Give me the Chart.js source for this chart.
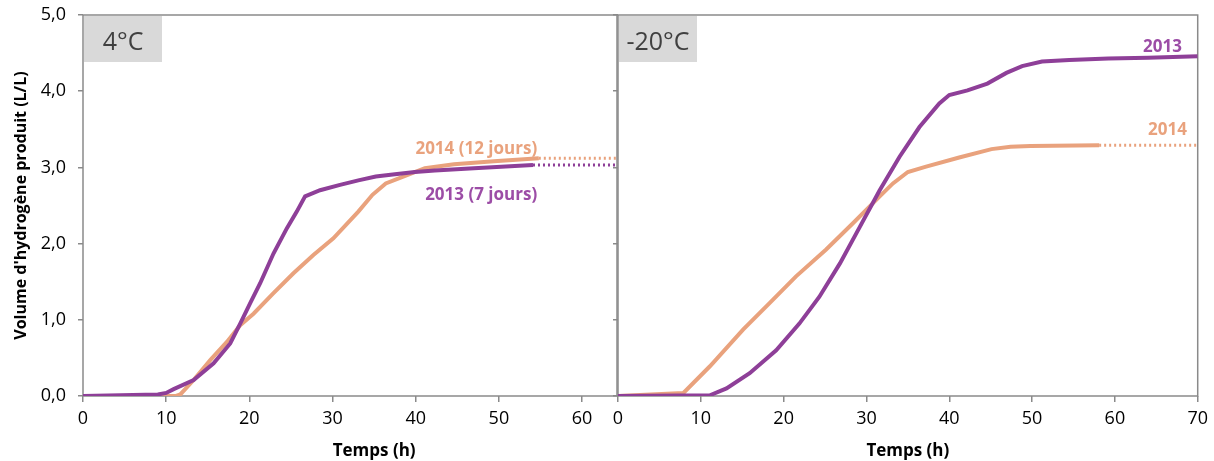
<!DOCTYPE html>
<html>
<head>
<meta charset="utf-8">
<script src="https://cdn.jsdelivr.net/npm/chart.js@4/dist/chart.umd.min.js"></script>
<style>
  body { margin: 0; background: #fff; }
  #wrap { position: relative; width: 1214px; height: 461px; }
  .panel { position: absolute; top: 0; height: 461px; }
  #left { left: 0; width: 620px; }
  #right { left: 600px; width: 614px; }
</style>
</head>
<body>
<div id="wrap">
  <div class="panel" id="left"><canvas id="chartLeft"></canvas></div>
  <div class="panel" id="right"><canvas id="chartRight"></canvas></div>
</div>
<script>
// 4°C panel
const left2013Time = [0, 9, 10, 10.9, 13.3, 15.7, 17.7, 18.9, 20.1, 21.3, 22.9, 24.5, 25.7, 26.7, 28.5, 30.9, 33.1, 35.2, 37.5, 39.9, 42.3, 47, 54.1];
const left2013Vol  = [0, 0.02, 0.04, 0.09, 0.21, 0.43, 0.69, 0.95, 1.22, 1.48, 1.87, 2.2, 2.42, 2.62, 2.7, 2.77, 2.83, 2.88, 2.91, 2.94, 2.96, 2.99, 3.03];
const left2014Time = [0, 11.2, 11.7, 13.3, 15.3, 17.3, 18.9, 20.5, 22.9, 25.3, 27.7, 30.1, 33.1, 34.8, 36.4, 38.5, 41.1, 44.6, 49.4, 54.8];
const left2014Vol  = [0, 0, 0.02, 0.21, 0.47, 0.71, 0.93, 1.08, 1.35, 1.61, 1.85, 2.07, 2.42, 2.64, 2.79, 2.88, 2.99, 3.04, 3.08, 3.12];

// -20°C panel
const right2013Time = [0, 11.1, 13.1, 15.9, 19.1, 21.9, 24.3, 26.8, 29.2, 31.6, 34, 36.4, 38.8, 40, 42.2, 44.6, 46.9, 48.8, 51.2, 54.5, 59.2, 64, 70];
const right2013Vol  = [0, 0.01, 0.1, 0.3, 0.6, 0.95, 1.3, 1.74, 2.22, 2.7, 3.14, 3.53, 3.84, 3.95, 4.01, 4.1, 4.24, 4.33, 4.39, 4.41, 4.43, 4.44, 4.46];
const right2014Time = [0, 7.9, 11.1, 15.1, 18.3, 21.5, 25.1, 28.4, 31.6, 33.2, 35, 37.2, 41.2, 45.1, 47.4, 49.8, 58.1];
const right2014Vol  = [0, 0.04, 0.39, 0.87, 1.22, 1.57, 1.92, 2.27, 2.62, 2.79, 2.94, 3.01, 3.13, 3.24, 3.27, 3.28, 3.29];

const yMax = 5;
const leftXMax = 64.2;
const rightXMax = 70;

const purple = '#8E3F98';
const purpleText = '#9C4DA6';
const orange = '#E9A27D';
const frameColor = '#8a8a8a';
const font = "'Open Sans', sans-serif";

function toPoints(xs, ys) {
  return xs.map((x, i) => ({ x: x, y: ys[i] }));
}

function solid(xs, ys, color) {
  return { data: toPoints(xs, ys), borderColor: color, borderWidth: 4, pointRadius: 0, tension: 0, fill: false };
}

function dotted(xs, ys, xEnd, color) {
  const last = ys[ys.length - 1];
  return {
    data: [{ x: xs[xs.length - 1], y: last }, { x: xEnd, y: last }],
    borderColor: color, borderWidth: 3, borderDash: [2, 3], pointRadius: 0, fill: false
  };
}

function deco(title, labels) {
  return {
    id: 'deco',
    beforeDatasetsDraw(chart) {
      const { ctx, chartArea: a } = chart;
      ctx.save();
      ctx.strokeStyle = frameColor;
      ctx.lineWidth = 1.5;
      ctx.strokeRect(a.left, a.top, a.right - a.left, a.bottom - a.top);
      ctx.restore();
    },
    afterDraw(chart) {
      const { ctx, chartArea: a, scales } = chart;
      ctx.save();
      // panel tag
      ctx.fillStyle = '#d9d9d9';
      ctx.fillRect(a.left + 1, a.top + 1, 78, 46);
      ctx.fillStyle = '#404040';
      ctx.font = '25px ' + font;
      ctx.textAlign = 'center';
      ctx.textBaseline = 'alphabetic';
      ctx.fillText(title, a.left + 40, a.top + 35);
      // series labels
      ctx.font = 'bold 17px ' + font;
      ctx.textAlign = 'right';
      labels.forEach(l => {
        ctx.fillStyle = l.color;
        ctx.fillText(l.text, scales.x.getPixelForValue(l.x), scales.y.getPixelForValue(l.y));
      });
      // x title
      ctx.fillStyle = '#000';
      ctx.textAlign = 'center';
      ctx.font = 'bold 17px ' + font;
      ctx.fillText('Temps (h)', scales.x.getPixelForValue(35), 456);
      ctx.restore();
    }
  };
}

function xScale(max) {
  return {
    type: 'linear', min: 0, max: max,
    border: { display: false },
    grid: { drawOnChartArea: false, drawTicks: true, tickLength: 6, color: frameColor, lineWidth: 1.5 },
    ticks: { stepSize: 10, includeBounds: false, color: '#000', padding: 6, font: { family: font, size: 18 } },
    afterFit: s => { s.height = 65; }
  };
}

function yScale(showLabels, width) {
  return {
    min: 0, max: yMax,
    border: { display: false },
    grid: { drawOnChartArea: false, drawTicks: true, tickLength: 5, color: frameColor, lineWidth: 1.5 },
    ticks: {
      display: showLabels, stepSize: 1, color: '#000', padding: 12,
      font: { family: font, size: 18 },
      callback: v => v.toFixed(1).replace('.', ',')
    },
    title: {
      display: showLabels, text: "Volume d'hydrogène produit (L/L)", color: '#000',
      font: { family: font, size: 16, weight: 'bold' }, padding: { top: 12, bottom: 0 }
    },
    afterFit: s => { s.width = width; s.paddingTop = 0; s.paddingBottom = 0; }
  };
}

function baseOptions(max, showY, yWidth, padding) {
  return {
    responsive: true,
    maintainAspectRatio: false,
    animation: false,
    layout: { padding: padding },
    plugins: { legend: { display: false }, tooltip: { enabled: false } },
    scales: { x: xScale(max), y: yScale(showY, yWidth) }
  };
}

new Chart(document.getElementById('chartLeft'), {
  type: 'line',
  data: {
    datasets: [
      dotted(left2014Time, left2014Vol, leftXMax, orange),
      dotted(left2013Time, left2013Vol, leftXMax, purple),
      solid(left2013Time, left2013Vol, purple),
      solid(left2014Time, left2014Vol, orange)
    ]
  },
  options: baseOptions(leftXMax, true, 83, { left: 0, right: 3, top: 15, bottom: 0 }),
  plugins: [deco('4°C', [
    { text: '2014 (12 jours)', x: 54.6, y: 3.18, color: orange },
    { text: '2013 (7 jours)', x: 54.6, y: 2.57, color: purpleText }
  ])]
});

new Chart(document.getElementById('chartRight'), {
  type: 'line',
  data: {
    datasets: [
      dotted(right2014Time, right2014Vol, rightXMax, orange),
      solid(right2013Time, right2013Vol, purple),
      solid(right2014Time, right2014Vol, orange)
    ]
  },
  options: baseOptions(rightXMax, false, 18, { left: 0, right: 15, top: 15, bottom: 0 }),
  plugins: [deco('-20°C', [
    { text: '2013', x: 68.1, y: 4.52, color: purpleText },
    { text: '2014', x: 68.7, y: 3.43, color: orange }
  ])]
});
</script>
</body>
</html>
